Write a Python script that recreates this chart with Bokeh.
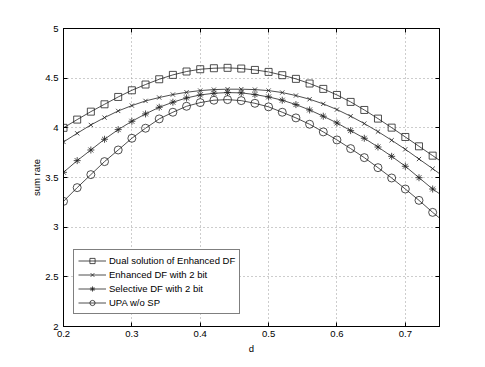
from bokeh.plotting import figure
from bokeh.models import LinearAxis, Range1d, FixedTicker, Legend, LegendItem
from bokeh.embed import file_html
from bokeh.resources import INLINE

d = [0.20, 0.22, 0.24, 0.26, 0.28, 0.30, 0.32, 0.34, 0.36, 0.38, 0.40, 0.42, 0.44, 0.46,
     0.48, 0.50, 0.52, 0.54, 0.56, 0.58, 0.60, 0.62, 0.64, 0.66, 0.68, 0.70, 0.72, 0.74]
d_end = 0.75

dual = [4.000, 4.083, 4.163, 4.237, 4.311, 4.378, 4.436, 4.489, 4.533, 4.567, 4.590, 4.600, 4.604, 4.597,
        4.583, 4.563, 4.530, 4.493, 4.446, 4.392, 4.331, 4.261, 4.180, 4.093, 4.002, 3.908, 3.814, 3.720]
dual_end = 3.673

enh = [3.858, 3.945, 4.029, 4.103, 4.170, 4.224, 4.271, 4.305, 4.335, 4.358, 4.375, 4.385, 4.389, 4.389,
       4.385, 4.375, 4.355, 4.325, 4.288, 4.241, 4.184, 4.117, 4.043, 3.962, 3.875, 3.784, 3.686, 3.589]
enh_end = 3.539

sel = [3.552, 3.670, 3.777, 3.885, 3.982, 4.066, 4.140, 4.207, 4.258, 4.301, 4.331, 4.348, 4.355, 4.352,
       4.335, 4.311, 4.278, 4.234, 4.180, 4.117, 4.049, 3.972, 3.895, 3.807, 3.713, 3.613, 3.498, 3.384]
sel_end = 3.337

upa = [3.260, 3.398, 3.529, 3.660, 3.777, 3.895, 3.996, 4.090, 4.157, 4.217, 4.254, 4.278, 4.284, 4.274,
       4.247, 4.211, 4.157, 4.100, 4.036, 3.959, 3.878, 3.791, 3.700, 3.599, 3.495, 3.384, 3.270, 3.149]
upa_end = 3.092

labels = ["Dual solution of Enhanced DF", "Enhanced DF with 2 bit",
          "Selective DF with 2 bit", "UPA w/o SP"]
markers = ["square", "x", "asterisk", "circle"]
msizes = [7, 6, 7, 8]

x_ticks = [0.2, 0.3, 0.4, 0.5, 0.6, 0.7]
y_ticks = [2, 2.5, 3, 3.5, 4, 4.5, 5]

FONT = "Liberation Sans"
FS = "9.5px"

p = figure(width=485, height=367, output_backend="svg", toolbar_location=None,
           x_range=Range1d(0.2, 0.75), y_range=Range1d(2, 5),
           min_border_left=63, min_border_right=46, min_border_top=28, min_border_bottom=41,
           x_axis_label="d", y_axis_label="sum rate")
p.outline_line_color = "black"
p.outline_line_width = 1
p.background_fill_color = "white"
p.border_fill_color = "white"

for ax in [p.xaxis[0], p.yaxis[0]]:
    ax.major_tick_in = 4
    ax.major_tick_out = 0
    ax.minor_tick_in = 0
    ax.minor_tick_out = 0
    ax.axis_line_color = "black"
    ax.major_label_text_font = FONT
    ax.major_label_text_font_size = FS
    ax.major_label_text_color = "black"
    ax.axis_label_text_font = FONT
    ax.axis_label_text_font_size = FS
    ax.axis_label_text_font_style = "normal"
    ax.axis_label_text_color = "black"
p.xaxis[0].ticker = FixedTicker(ticks=x_ticks)
p.yaxis[0].ticker = FixedTicker(ticks=y_ticks)
p.xaxis[0].major_label_standoff = 4
p.yaxis[0].major_label_standoff = 5
p.xaxis[0].axis_label_standoff = 3
p.yaxis[0].axis_label_standoff = 0

for loc, t in [("right", y_ticks), ("above", x_ticks)]:
    ax = LinearAxis(ticker=FixedTicker(ticks=t))
    ax.major_tick_in = 4
    ax.major_tick_out = 0
    ax.minor_tick_in = 0
    ax.minor_tick_out = 0
    ax.major_label_text_font_size = "0px"
    ax.major_label_text_color = None
    ax.axis_line_color = "black"
    p.add_layout(ax, loc)

p.xgrid.ticker = FixedTicker(ticks=x_ticks)
p.ygrid.ticker = FixedTicker(ticks=y_ticks)
for g in [p.xgrid[0], p.ygrid[0]]:
    g.grid_line_color = "#9a9a9a"
    g.grid_line_dash = "1 3"
    g.grid_line_width = 1

series = [(dual, dual_end), (enh, enh_end), (sel, sel_end), (upa, upa_end)]
items = []
for (ys, yend), lab, mk, ms in zip(series, labels, markers, msizes):
    ln = p.line(d + [d_end], ys + [yend], line_color="#222222", line_width=0.8)
    sc = p.scatter(d, ys, marker=mk, size=ms, line_color="#222222", line_width=0.8,
                   fill_color=None)
    items.append(LegendItem(label=lab, renderers=[ln, sc]))

leg = Legend(items=items, location=(10, 12))
leg.label_text_font = FONT
leg.label_text_font_size = FS
leg.label_text_color = "black"
leg.glyph_width = 28
leg.glyph_height = 13
leg.label_height = 13
leg.spacing = 1
leg.padding = 4
leg.margin = 0
leg.label_standoff = 3
leg.border_line_color = "black"
leg.border_line_width = 1
leg.background_fill_color = "white"
leg.background_fill_alpha = 1
p.add_layout(leg, "center")

open("out.html", "w").write(file_html(p, INLINE))
